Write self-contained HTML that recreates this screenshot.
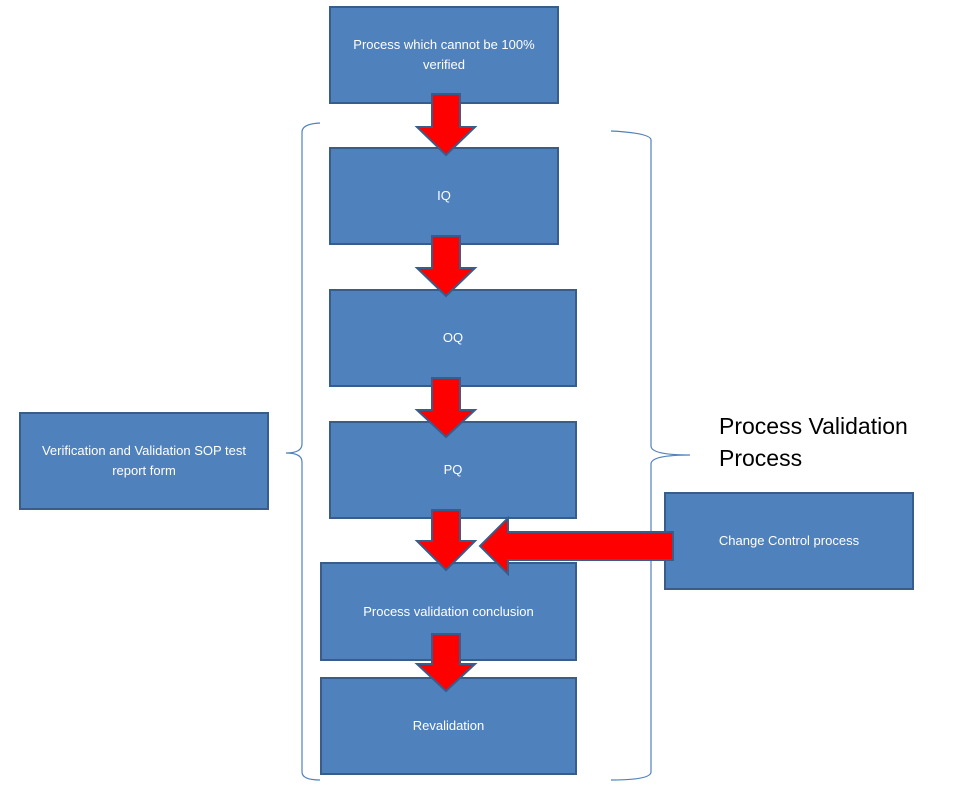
<!DOCTYPE html>
<html><head><style>
body{margin:0;width:969px;height:792px;background:#fff;position:relative;overflow:hidden;font-family:"Liberation Sans",sans-serif}
.b{position:absolute;background:#4f81bd;border:2px solid #385d8a;box-sizing:border-box;color:#fff;font-size:13px;display:flex;align-items:center;justify-content:center;text-align:center;line-height:20px}
</style></head><body>
<svg width="969" height="792" style="position:absolute;left:0;top:0" fill="none">
<path d="M320 123 Q302 124 302 132 L302 444 Q302 453 286 453 Q302 453 302 462 L302 772 Q302 780 320 780" stroke="#4f81bd" stroke-width="1.2"/>
<path d="M611 131 Q651 133 651 140 L651 446 Q651 455 690 455 Q651 455 651 464 L651 772 Q651 780 611 780" stroke="#4f81bd" stroke-width="1.2"/>
</svg>
<div class="b" style="left:329px;top:6px;width:230px;height:98px;padding:0 10px">Process which cannot be 100% verified</div>
<div class="b" style="left:329px;top:147px;width:230px;height:98px">IQ</div>
<div class="b" style="left:329px;top:289px;width:248px;height:98px">OQ</div>
<div class="b" style="left:329px;top:421px;width:248px;height:98px">PQ</div>
<div class="b" style="left:320px;top:562px;width:257px;height:99px">Process validation conclusion</div>
<div class="b" style="left:320px;top:677px;width:257px;height:98px">Revalidation</div>
<div class="b" style="left:19px;top:412px;width:250px;height:98px;padding:0 14px">Verification and Validation SOP test report form</div>
<div class="b" style="left:664px;top:492px;width:250px;height:98px">Change Control process</div>
<div style="position:absolute;left:719px;top:410px;font-size:23px;line-height:32px;color:#000">Process Validation<br>Process</div>
<svg width="969" height="792" style="position:absolute;left:0;top:0">
<g fill="#ff0000" stroke="#385d8a" stroke-width="2" stroke-linejoin="miter">
<path d="M432 94 L460 94 L460 127 L475 127 L446 155 L417 127 L432 127 Z"/>
<path d="M432 236 L460 236 L460 268 L475 268 L446 296 L417 268 L432 268 Z"/>
<path d="M432 378 L460 378 L460 410 L475 410 L446 437 L417 410 L432 410 Z"/>
<path d="M432 510 L460 510 L460 541 L475 541 L446 570 L417 541 L432 541 Z"/>
<path d="M432 634 L460 634 L460 664 L475 664 L446 691 L417 664 L432 664 Z"/>
<path d="M673 532 L673 560 L508 560 L508 574 L480 546 L508 518 L508 532 Z"/>
</g></svg>
</body></html>
